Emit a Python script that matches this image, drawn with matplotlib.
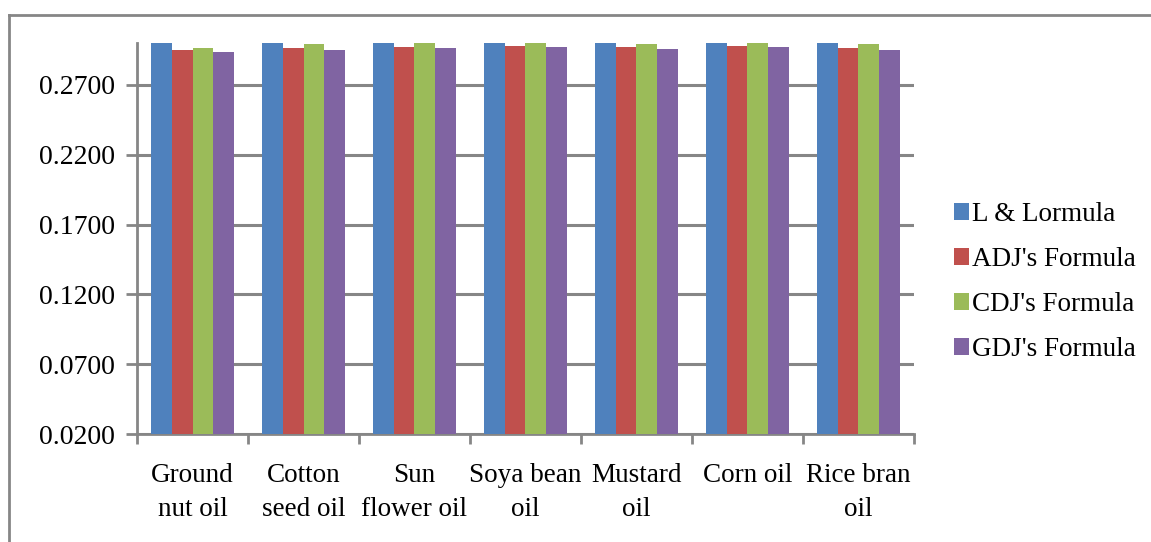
import matplotlib.pyplot as plt
import numpy as np
from matplotlib.lines import Line2D
from matplotlib.patches import Patch

plt.rcParams['font.family'] = ['Liberation Serif', 'DejaVu Serif']

categories = ["Ground\nnut oil", "Cotton\nseed oil", "Sun\nflower oil", "Soya bean\noil",
              "Mustard\noil", "Corn oil", "Rice bran\noil"]
series_names = ["L & Lormula", "ADJ's Formula", "CDJ's Formula", "GDJ's Formula"]
l_lormula = [0.3000, 0.3000, 0.3000, 0.3000, 0.3000, 0.3000, 0.3000]
adj_formula = [0.2948, 0.2962, 0.2969, 0.2976, 0.2969, 0.2976, 0.2962]
cdj_formula = [0.2962, 0.2991, 0.2998, 0.3000, 0.2991, 0.3000, 0.2991]
gdj_formula = [0.2934, 0.2948, 0.2962, 0.2969, 0.2955, 0.2969, 0.2948]
yticks = [0.02, 0.07, 0.12, 0.17, 0.22, 0.27]

colors = ['#4F81BD', '#C0504D', '#9BBB59', '#8064A2']
data = [l_lormula, adj_formula, cdj_formula, gdj_formula]

fig = plt.figure(figsize=(11.51, 5.42), dpi=100)
ax = fig.add_axes([137/1151, 1 - 434/542, (914-137)/1151, (434-43)/542])

x = np.arange(len(categories))
w = 0.185
for i, (vals, c) in enumerate(zip(data, colors)):
    ax.bar(x + (i - 1.5) * w, np.array(vals) - 0.02, width=w, bottom=0.02,
           color=c, label=series_names[i], zorder=3)

ax.set_xlim(-0.5, len(categories) - 0.5)
ax.set_ylim(0.02, 0.30)
ax.set_yticks(yticks)
ax.set_yticklabels([f"{v:.4f}" for v in yticks], fontsize=20)
ax.set_xticks(x)
ax.set_xticklabels(categories, fontsize=19.5, linespacing=1.45)
ax.set_xticks(np.arange(len(categories) + 1) - 0.5, minor=True)
ax.tick_params(axis='x', which='major', length=0, pad=21)
ax.tick_params(axis='x', which='minor', length=7, width=2, color='#868686', direction='out')
ax.tick_params(axis='y', length=8, width=2, color='#868686', pad=8)
ax.yaxis.grid(True, color='#868686', linewidth=2.2, zorder=0)
for s in ['top', 'right']:
    ax.spines[s].set_visible(False)
for s in ['left', 'bottom']:
    ax.spines[s].set_color('#868686')
    ax.spines[s].set_linewidth(2)

handles = [Patch(facecolor=c, label=n) for c, n in zip(colors, series_names)]
fig.legend(handles=handles, loc='center left', bbox_to_anchor=(954/1151, 1 - 282/542),
           frameon=False, fontsize=19.5, handlelength=0.55, handleheight=0.55,
           handletextpad=0.12, labelspacing=0.74, borderpad=0, borderaxespad=0)

# outer chart border (top and left visible)
fig.add_artist(Line2D([9/1151, 1], [1 - 15/542, 1 - 15/542], color='#868686', linewidth=2))
fig.add_artist(Line2D([9/1151, 9/1151], [0, 1 - 15/542], color='#868686', linewidth=2))

plt.savefig("out.png")
